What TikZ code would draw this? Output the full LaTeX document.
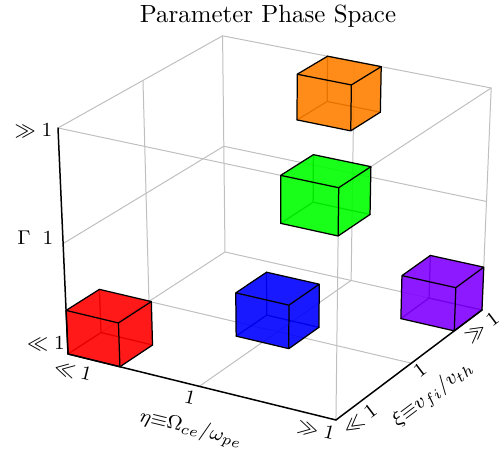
\documentclass[tikz,border=0pt]{standalone}
\def\psX{0}\def\psY{0}\def\psZ{0}
\pgfkeys{/psc/.cd,
  x/.code={\def\psX{#1}},
  y/.code={\def\psY{#1}},
  z/.code={\def\psZ{#1}}}
\tikzdeclarecoordinatesystem{ps}{%
  \pgfkeys{/psc/.cd,x=0,y=0,z=0,#1}%
  \pgfmathsetmacro\psW{1-0.0386*\psX+0.0647*\psY-0.045*\psZ}%
  \pgfmathsetmacro\psU{(68+255*\psX+171.56*\psY-12.61*\psZ)/\psW}%
  \pgfmathsetmacro\psV{(354+49.8*\psX-85.7*\psY-231.76*\psZ)/\psW}%
  \pgfpointxy{\psU}{\psV}%
}
\definecolor{cred}{RGB}{255,0,0}
\definecolor{cblue}{RGB}{0,0,255}
\definecolor{cgreen}{RGB}{0,255,0}
\definecolor{corange}{RGB}{255,128,0}
\definecolor{cpurple}{RGB}{128,0,255}
\tikzset{
  gridline/.style={draw=black!25, line width=0.4pt},
  axisline/.style={draw=black, line width=0.6pt, line cap=round},
  cubeedge/.style={draw=black, line width=0.5pt, line join=round, line cap=round},
  ticklab/.style={font=\footnotesize, inner sep=0pt},
}
\newcommand\phcube[4]{%
  \pgfmathsetmacro\cxa{#2}\pgfmathsetmacro\cxb{#2+0.2}%
  \pgfmathsetmacro\cya{#3}\pgfmathsetmacro\cyb{#3+0.2}%
  \pgfmathsetmacro\cza{#4}\pgfmathsetmacro\czb{#4+0.2}%
  \coordinate (c000) at (ps cs:x=\cxa,y=\cya,z=\cza);
  \coordinate (c100) at (ps cs:x=\cxb,y=\cya,z=\cza);
  \coordinate (c010) at (ps cs:x=\cxa,y=\cyb,z=\cza);
  \coordinate (c110) at (ps cs:x=\cxb,y=\cyb,z=\cza);
  \coordinate (c001) at (ps cs:x=\cxa,y=\cya,z=\czb);
  \coordinate (c101) at (ps cs:x=\cxb,y=\cya,z=\czb);
  \coordinate (c011) at (ps cs:x=\cxa,y=\cyb,z=\czb);
  \coordinate (c111) at (ps cs:x=\cxb,y=\cyb,z=\czb);
  \draw[cubeedge] (c010) -- (c000) (c010) -- (c110) (c010) -- (c011);
  \fill[#1, fill opacity=0.9] (c000) -- (c100) -- (c101) -- (c001) -- cycle
     (c001) -- (c101) -- (c111) -- (c011) -- cycle
     (c100) -- (c110) -- (c111) -- (c101) -- cycle;
  \draw[cubeedge] (c000) -- (c100) -- (c101) -- (c001) -- cycle
     (c001) -- (c011) -- (c111) -- (c101)
     (c100) -- (c110) -- (c111);
}
\begin{document}
\begin{tikzpicture}[x=0.4016pt, y=-0.4016pt]
\useasboundingbox (0,0) rectangle (500,454);
% box corners
\coordinate (A) at (ps cs:x=0,y=0,z=0);
\coordinate (B) at (ps cs:x=1,y=0,z=0);
\coordinate (C) at (ps cs:x=1,y=1,z=0);
\coordinate (D) at (ps cs:x=0,y=1,z=0);
\coordinate (E) at (ps cs:x=0,y=0,z=1);
\coordinate (F) at (ps cs:x=1,y=0,z=1);
\coordinate (G) at (ps cs:x=0,y=1,z=1);
\coordinate (H) at (ps cs:x=1,y=1,z=1);
% grid points
\coordinate (ly1) at (ps cs:x=0,y=0.5,z=1);
\coordinate (ly0) at (ps cs:x=0,y=0.5,z=0);
\coordinate (lz0) at (ps cs:x=0,y=0,z=0.5);
\coordinate (lz1) at (ps cs:x=0,y=1,z=0.5);
\coordinate (rz1) at (ps cs:x=1,y=1,z=0.5);
\coordinate (bx1) at (ps cs:x=0.5,y=1,z=1);
\coordinate (bx0) at (ps cs:x=0.5,y=1,z=0);
\coordinate (fx0) at (ps cs:x=0.5,y=0,z=0);
\coordinate (fy1) at (ps cs:x=1,y=0.5,z=0);
% gray box edges and grid
\draw[gridline] (E) -- (G) -- (H) -- (C);
\draw[gridline] (G) -- (D) -- (C);
\draw[gridline] (D) -- (A);
\draw[gridline] (E) -- (F) -- (H);
\draw[gridline] (F) -- (B);
\draw[gridline] (ly1) -- (ly0);
\draw[gridline] (lz0) -- (lz1) -- (rz1);
\draw[gridline] (bx1) -- (bx0) -- (fx0);
\draw[gridline] (ly0) -- (fy1);
% cubes
\phcube{cred}{0}{0}{0}
\phcube{cblue}{0.4}{0.4}{0}
\phcube{cpurple}{0.8}{0.8}{0}
\phcube{corange}{0.4}{0.8}{0.8}
\phcube{cgreen}{0.8}{0}{0.8}
% axes
\draw[axisline] (E) -- (A) -- (B) -- (C);
% title
\node[anchor=base, font=\normalsize, inner sep=0pt] (title) at (268,23) {Parameter Phase Space};
% z ticks
\node[ticklab] (zt1) at (33.5,131) {$\gg 1$};
\node[ticklab] (zt2) at (48,238) {$1$};
\node[ticklab] (zt3) at (46,344) {$\ll 1$};
\node[ticklab] (zlab) at (24,238) {$\Gamma$};
% eta ticks
\node[ticklab, rotate=-13.8] (xt1) at (73,371) {$\ll 1$};
\node[ticklab, rotate=-13.8] (xt2) at (190,398) {$1$};
\node[ticklab, rotate=-13.8] (xt3) at (316,430) {$\gg 1$};
\node[ticklab, rotate=-13.8] (xlab) at (191,429) {$\eta{\equiv}\Omega_{ce}/\omega_{pe}$};
% xi ticks
\node[ticklab, rotate=37] (yt1) at (360,420) {$\ll 1$};
\node[ticklab, rotate=37] (yt2) at (420,370) {$1$};
\node[ticklab, rotate=37] (yt3) at (482,328) {$\gg 1$};
\node[ticklab, rotate=37] (ylab) at (433,394) {$\xi{\equiv}v_{fi}/v_{th}$};
\end{tikzpicture}
\end{document}
